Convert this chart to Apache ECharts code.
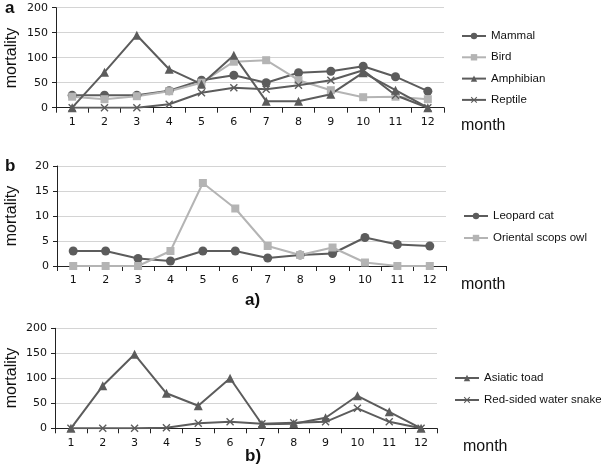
<!DOCTYPE html>
<html><head><meta charset="utf-8">
<script src="https://cdn.jsdelivr.net/npm/echarts@6/dist/echarts.min.js"></script>
<style>html,body{margin:0;padding:0;background:#fff}#c{width:601px;height:475px}</style>
</head><body><div id="c"></div>
<script>
var months = ['1','2','3','4','5','6','7','8','9','10','11','12'];
var mammal    = [25,25,25,34,55,65,50,70,73,83,62,33];
var bird      = [22,17,23,33,50,92,95,55,35,21,22,17];
var amphibian = [0,71,145,77,47,105,13,13,27,70,35,0];
var reptile   = [0,0,0,7,30,40,37,45,55,75,25,0];
var leopardCat = [3,3,1.5,1,3,3,1.6,2.2,2.5,5.7,4.3,4.0];
var scopsOwl   = [0,0,0,3,16.6,11.5,4,2.2,3.7,0.7,0,0];
var asiaticToad = [0,85,148,70,45,100,8,9,21,65,33,0];
var waterSnake  = [0,0,0,1,10,13,9,11,13,40,13,0];

var DARK = '#5c5c5c', LIGHT = '#b4b4b4';
var XSYM = 'path://M0,1.2L1.2,0L5,3.8L8.8,0L10,1.2L6.2,5L10,8.8L8.8,10L5,6.2L1.2,10L0,8.8L3.8,5Z';
var TICKFONT = {fontFamily:'DejaVu Sans', fontSize:11, color:'#111'};

var grids = [
  {left:56, top:7.7, width:388, height:100},
  {left:57, top:166, width:389, height:100},
  {left:55, top:328.3, width:382, height:100}
];
function xa(i){return {type:'category', gridIndex:i, data:months, boundaryGap:true,
  axisLine:{lineStyle:{color:'#222', width:1}}, axisTick:{show:true, length:5, lineStyle:{color:'#222'}},
  axisLabel:Object.assign({margin:9}, TICKFONT)};}
function ya(i,max,intv){return {type:'value', gridIndex:i, min:0, max:max, interval:intv,
  axisLine:{show:true, lineStyle:{color:'#222'}}, axisTick:{show:true, length:4, lineStyle:{color:'#222'}},
  axisLabel:Object.assign({margin:8}, TICKFONT),
  splitLine:{lineStyle:{color:'#d4d4d4', width:1}}};}
function ser(name, data, i, color, symbol, size){
  return {type:'line', name:name, data:data, xAxisIndex:i, yAxisIndex:i, symbol:symbol, symbolSize:size,
    lineStyle:{color:color, width:2}, itemStyle:{color:color}, animation:false};
}
var legendText = {fontFamily:'Liberation Sans', fontSize:11.5, color:'#111'};
var option = {
  animation:false,
  grid:grids,
  xAxis:[xa(0),xa(1),xa(2)],
  yAxis:[ya(0,200,50),ya(1,20,5),ya(2,200,50)],
  legend:[
    {data:['Mammal','Bird','Amphibian','Reptile'], orient:'vertical', left:456, top:25, padding:5, itemGap:9.3, itemWidth:24, itemHeight:8, textStyle:legendText},
    {data:['Leopard cat','Oriental scops owl'], orient:'vertical', left:458, top:205, padding:5, itemGap:10, itemWidth:24, itemHeight:8, textStyle:legendText},
    {data:['Asiatic toad','Red-sided water snake'], orient:'vertical', left:449, top:367, padding:5, itemGap:10, itemWidth:24, itemHeight:8, textStyle:legendText}
  ],
  series:[
    ser('Mammal', mammal, 0, DARK, 'circle', 9),
    ser('Bird', bird, 0, LIGHT, 'rect', 8),
    ser('Amphibian', amphibian, 0, DARK, 'triangle', 9),
    ser('Reptile', reptile, 0, DARK, XSYM, 8),
    ser('Leopard cat', leopardCat, 1, DARK, 'circle', 9),
    ser('Oriental scops owl', scopsOwl, 1, LIGHT, 'rect', 8),
    ser('Asiatic toad', asiaticToad, 2, DARK, 'triangle', 9),
    ser('Red-sided water snake', waterSnake, 2, DARK, XSYM, 8)
  ],
  graphic:[
    {type:'text', left:5, top:0, style:{text:'a', font:'bold 17px "Liberation Sans"', fill:'#111'}},
    {type:'text', left:5, top:158, style:{text:'b', font:'bold 17px "Liberation Sans"', fill:'#111'}},
    {type:'text', x:12, y:58, rotation:Math.PI/2, style:{text:'mortality', font:'16px "Liberation Sans"', fill:'#111', align:'center', verticalAlign:'middle'}},
    {type:'text', x:12, y:216, rotation:Math.PI/2, style:{text:'mortality', font:'16px "Liberation Sans"', fill:'#111', align:'center', verticalAlign:'middle'}},
    {type:'text', x:12, y:378, rotation:Math.PI/2, style:{text:'mortality', font:'16px "Liberation Sans"', fill:'#111', align:'center', verticalAlign:'middle'}},
    {type:'text', x:461, y:126, style:{text:'month', font:'16px "Liberation Sans"', fill:'#111', verticalAlign:'middle'}},
    {type:'text', x:461, y:285, style:{text:'month', font:'16px "Liberation Sans"', fill:'#111', verticalAlign:'middle'}},
    {type:'text', x:463, y:447, style:{text:'month', font:'16px "Liberation Sans"', fill:'#111', verticalAlign:'middle'}},
    {type:'text', x:245, y:300, style:{text:'a)', font:'bold 17px "Liberation Sans"', fill:'#111', verticalAlign:'middle'}},
    {type:'text', x:245, y:456, style:{text:'b)', font:'bold 17px "Liberation Sans"', fill:'#111', verticalAlign:'middle'}}
  ]
};
var chart = echarts.init(document.getElementById('c'), null, {renderer:'canvas'});
chart.setOption(option);
</script></body></html>
